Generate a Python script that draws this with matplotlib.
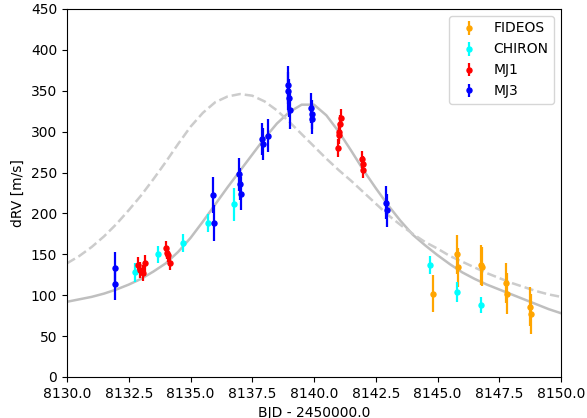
import matplotlib
matplotlib.use("Agg")
import matplotlib.pyplot as plt
import numpy as np

# ---- data (BJD - 2450000) ----
fideos_t = [8144.8, 8145.8, 8145.82, 8146.78, 8146.8, 8147.78, 8147.8, 8148.75, 8148.77]
fideos_rv = [102, 150, 134, 137, 135, 115, 102, 86, 77]
fideos_err = [23, 24, 24, 24, 24, 25, 25, 24, 24]

chiron_t = [8132.75, 8133.7, 8134.7, 8135.7, 8136.75, 8144.7, 8145.8, 8146.75]
chiron_rv = [128, 150, 164, 188, 211, 137, 104, 88]
chiron_err = [12, 10, 11, 11, 20, 11, 12, 10]

mj1_t = [8132.87, 8132.96, 8133.08, 8133.16, 8134.0, 8134.05, 8134.09, 8134.17,
         8140.98, 8141.0, 8141.03, 8141.06, 8141.09, 8141.95, 8141.97, 8142.0]
mj1_rv = [137, 131, 127, 139, 158, 152, 149, 139,
          280, 296, 300, 309, 317, 266, 260, 253]
mj1_err = [10, 10, 10, 10, 8, 8, 8, 8,
           11, 11, 11, 11, 11, 10, 10, 10]

mj3_t = [8131.94, 8131.95, 8135.93, 8135.96, 8136.97, 8137.0, 8137.03,
         8137.88, 8137.92, 8138.12, 8138.93, 8138.96, 8138.99, 8139.02,
         8139.88, 8139.9, 8139.92, 8142.93, 8142.96]
mj3_rv = [133, 114, 222, 188, 248, 236, 224,
          291, 285, 295, 357, 350, 341, 326,
          329, 321, 315, 213, 204]
mj3_err = [20, 20, 22, 22, 20, 20, 20,
           20, 20, 20, 23, 23, 23, 23,
           18, 18, 18, 20, 20]

# model curves (every half day)
model_t = [8130.0, 8130.5, 8131.0, 8131.5, 8132.0, 8132.5, 8133.0, 8133.5, 8134.0, 8134.5,
           8135.0, 8135.5, 8136.0, 8136.5, 8137.0, 8137.5, 8138.0, 8138.5, 8139.0, 8139.5,
           8140.0, 8140.5, 8141.0, 8141.5, 8142.0, 8142.5, 8143.0, 8143.5, 8144.0, 8144.5,
           8145.0, 8145.5, 8146.0, 8146.5, 8147.0, 8147.5, 8148.0, 8148.5, 8149.0, 8149.5,
           8150.0]
solid_rv = [92, 95, 98, 102, 107, 113, 120, 129, 139, 153,
            170, 190, 211, 232, 252, 272, 292, 310, 324, 333,
            333, 320, 300, 277, 253, 231, 210, 191, 174, 161,
            149, 138, 128, 120, 113, 107, 101, 95, 89, 83,
            78]
dashed_rv = [139, 148, 159, 172, 187, 204, 222, 242, 263, 285,
             306, 323, 336, 343, 346, 344, 337, 326, 312, 297,
             282, 267, 253, 240, 226, 212, 198, 186, 175, 165,
             157, 148, 141, 134, 127, 121, 115, 110, 105, 101,
             98]

xticks = [8130.0, 8132.5, 8135.0, 8137.5, 8140.0, 8142.5, 8145.0, 8147.5, 8150.0]
yticks = [0, 50, 100, 150, 200, 250, 300, 350, 400, 450]

fig = plt.figure(figsize=(5.87, 4.18), dpi=100)
ax = fig.add_axes([67/587, 1-377/418, (561-67)/587, (377-9)/418])

ax.plot(model_t, solid_rv, '-', color='0.75', lw=1.8, zorder=1)
ax.plot(model_t, dashed_rv, '--', color='0.8', lw=1.8, zorder=1)

kw = dict(fmt='o', ms=3.6, elinewidth=1.6, capsize=0, zorder=3)
ax.errorbar(fideos_t, fideos_rv, yerr=fideos_err, color='orange', label='FIDEOS', **kw)
ax.errorbar(chiron_t, chiron_rv, yerr=chiron_err, color='cyan', label='CHIRON', **kw)
ax.errorbar(mj1_t, mj1_rv, yerr=mj1_err, color='red', label='MJ1', **kw)
ax.errorbar(mj3_t, mj3_rv, yerr=mj3_err, color='blue', label='MJ3', **kw)

ax.set_xlim(8130, 8150)
ax.set_ylim(0, 450)
ax.set_xticks(xticks)
ax.set_xticklabels([f"{v:.1f}" for v in xticks])
ax.set_yticks(yticks)
ax.set_xlabel('BJD - 2450000.0')
ax.set_ylabel('dRV [m/s]')
ax.legend(loc='upper right')

fig.savefig('out.png', dpi=100)
